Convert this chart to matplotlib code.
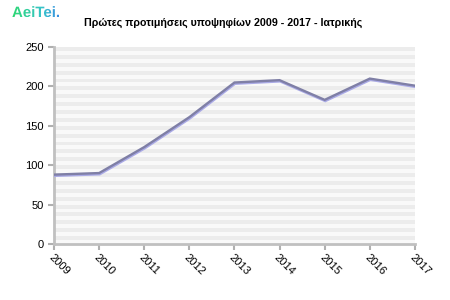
import matplotlib
matplotlib.use("Agg")
import matplotlib.pyplot as plt
import matplotlib.patheffects as pe
from matplotlib.textpath import TextPath
from matplotlib.patches import PathPatch
from matplotlib.font_manager import FontProperties
from matplotlib.colors import LinearSegmentedColormap
import numpy as np

years = ["2009", "2010", "2011", "2012", "2013", "2014", "2015", "2016", "2017"]
values = [88, 90, 123, 161, 205, 208, 183, 210, 201]
yticks = [0, 50, 100, 150, 200, 250]
title = "Πρώτες προτιμήσεις υποψηφίων 2009 - 2017 - Ιατρικής"
logo_text = "AeiTei."

plt.rcParams['font.family'] = ['Liberation Sans', 'DejaVu Sans']

fig = plt.figure(figsize=(4.5, 3.0), dpi=100)
ax = fig.add_axes([0.12, 0.187, 0.802, 0.656])

# striped background
n = 50
stripes = np.array([[0.925 if i % 2 == 0 else 0.975] for i in range(n)])
ax.imshow(stripes, cmap='gray', vmin=0, vmax=1, extent=[0, 1, 0, 1], transform=ax.transAxes,
          aspect='auto', interpolation='nearest', zorder=0)

x = np.arange(len(years))
ax.plot(x, values, color='#7f7fa6', lw=1.7, zorder=3, solid_joinstyle='miter',
        path_effects=[pe.SimpleLineShadow(offset=(0.4, -0.9), shadow_color='#aaaae6', alpha=1.0),
                      pe.Normal()])

ax.set_xlim(0, len(years) - 1)
ax.set_ylim(0, 250)
ax.set_yticks(yticks)
ax.set_yticklabels([str(v) for v in yticks], fontsize=8)
ax.set_xticks(x)
ax.set_xticklabels(years, fontsize=8, rotation=-45, ha='left', va='top', rotation_mode='anchor')
ax.tick_params(axis='both', colors='#b0b0b0', labelcolor='black', length=4, width=1.5)
ax.tick_params(axis='x', pad=2)
for s in ['top', 'right']:
    ax.spines[s].set_visible(False)
for s in ['left', 'bottom']:
    ax.spines[s].set_color('#c0c0c0')
    ax.spines[s].set_linewidth(2)
ax.set_facecolor('white')

fig.text(0.495, 0.925, title, ha='center', va='center', fontsize=7.7, fontweight='bold')

# logo with horizontal gradient, in pixel units
lax = fig.add_axes([0, 0.9, 0.2, 0.1])
lax.set_xlim(0, 90)
lax.set_ylim(0, 30)
lax.axis('off')
tp = TextPath((12, 13), logo_text, size=15, prop=FontProperties(family='Liberation Sans', weight='bold'))
patch = PathPatch(tp, facecolor='none', edgecolor='none')
lax.add_patch(patch)
bb = tp.get_extents()
cmap = LinearSegmentedColormap.from_list('logo', ['#2ed872', '#33cfa0', '#38c2cc', '#3a8ee2'])
grad = np.linspace(0, 1, 200).reshape(1, -1)
im = lax.imshow(grad, cmap=cmap, extent=[bb.x0, bb.x1, bb.y0, bb.y1], aspect='auto',
                interpolation='bilinear')
im.set_clip_path(patch)
lax.set_xlim(0, 90)
lax.set_ylim(0, 30)

fig.savefig("out.png", dpi=100)
